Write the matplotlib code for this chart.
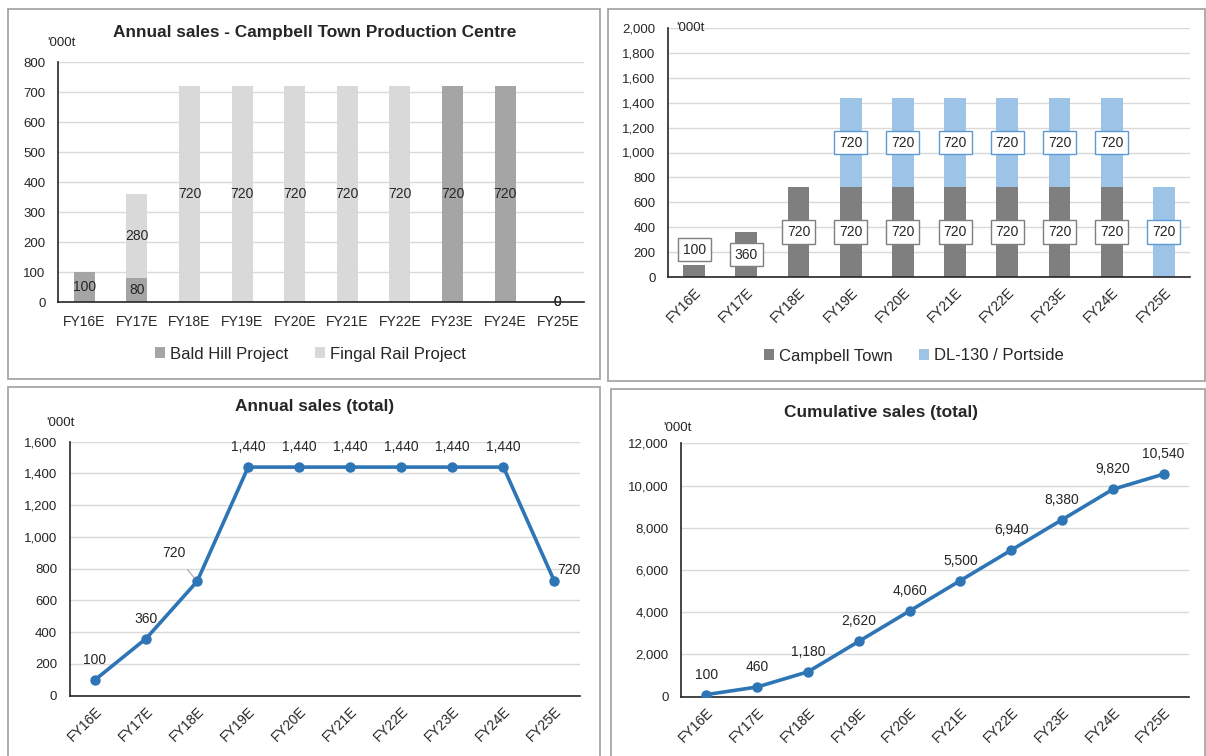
import matplotlib
matplotlib.use("Agg")
import matplotlib.pyplot as plt
from matplotlib.patches import Rectangle

# --- Dados ---
years = ["FY16E", "FY17E", "FY18E", "FY19E", "FY20E",
         "FY21E", "FY22E", "FY23E", "FY24E", "FY25E"]
bald_hill = [100, 80, 0, 0, 0, 0, 0, 720, 720, 0]
fingal_rail = [0, 280, 720, 720, 720, 720, 720, 0, 0, 0]
campbell_town = [100, 360, 720, 720, 720, 720, 720, 720, 720, 0]
dl130_portside = [0, 0, 0, 720, 720, 720, 720, 720, 720, 720]
annual_total = [100, 360, 720, 1440, 1440, 1440, 1440, 1440, 1440, 720]
cumulative_total = [100, 460, 1180, 2620, 4060, 5500, 6940, 8380, 9820, 10540]

# --- Estilo ---
W, H = 1206, 756
plt.rcParams['font.family'] = ['Liberation Sans', 'DejaVu Sans']
TXT = '#262626'
GRID = '#d9d9d9'
BORDER = '#a6a6a6'
C_BALD = '#a5a5a5'
C_FINGAL = '#d9d9d9'
C_CAMP = '#7f7f7f'
C_DL = '#9dc3e6'
C_LINE = '#2e75b6'

fig = plt.figure(figsize=(W / 100, H / 100), dpi=100)
x = list(range(len(years)))


def add_ax(l, t, r, b):
    return fig.add_axes([l / W, 1 - b / H, (r - l) / W, (b - t) / H])


def panel(l, t, r, b):
    fig.add_artist(Rectangle((l / W, 1 - b / H), (r - l) / W, (b - t) / H,
                             transform=fig.transFigure, fill=False,
                             ec=BORDER, lw=1.3))


def fig_text(px, py, s, **kw):
    fig.text(px / W, 1 - py / H, s, color=TXT, **kw)


def style_ax(ax, ymax, step, rotate):
    ax.set_xlim(-0.5, len(years) - 0.5)
    ax.set_ylim(0, ymax)
    ax.set_yticks(range(0, ymax + 1, step))
    ax.set_yticklabels([f"{v:,}" for v in range(0, ymax + 1, step)])
    ax.set_xticks(x)
    ax.grid(axis='y', color=GRID, lw=1)
    ax.set_axisbelow(True)
    for s in ['top', 'right']:
        ax.spines[s].set_visible(False)
    for s in ['left', 'bottom']:
        ax.spines[s].set_color('#262626')
        ax.spines[s].set_linewidth(1.2)
    ax.tick_params(length=0, colors=TXT)
    ax.tick_params(axis='y', labelsize=9.5, pad=9)
    if rotate:
        ax.set_xticklabels(years, rotation=45, ha='right', rotation_mode='anchor', fontsize=10)
        ax.tick_params(axis='x', pad=6)
    else:
        ax.set_xticklabels(years, fontsize=10)
        ax.tick_params(axis='x', pad=9)


# --- Bordas dos painéis ---
panel(8, 9, 600, 379)
panel(608, 9, 1205, 381)
panel(8, 387, 600, 760)
panel(611, 389, 1205, 760)

# --- Painel 1: Campbell Town Production Centre ---
ax1 = add_ax(58, 62, 584, 302)
style_ax(ax1, 800, 100, False)
ax1.bar(x, bald_hill, width=0.4, color=C_BALD, label='Bald Hill Project')
ax1.bar(x, fingal_rail, width=0.4, bottom=bald_hill, color=C_FINGAL, label='Fingal Rail Project')
for i in x:
    if bald_hill[i] > 0:
        ax1.text(i, bald_hill[i] / 2, str(bald_hill[i]), ha='center', va='center', fontsize=10, color=TXT)
    if fingal_rail[i] > 0:
        ax1.text(i, bald_hill[i] + fingal_rail[i] / 2, str(fingal_rail[i]),
                 ha='center', va='center', fontsize=10, color=TXT)
    if bald_hill[i] == 0 and fingal_rail[i] == 0:
        ax1.text(i, 0, "0", ha='center', va='center', fontsize=10, color=TXT)
        ax1.text(i, 0, "0", ha='center', va='center', fontsize=10, color=TXT)
fig_text(315, 33, "Annual sales - Campbell Town Production Centre",
         ha='center', va='center', fontsize=12.4, fontweight='bold')
fig_text(61, 43, "'000t", ha='center', va='center', fontsize=9.5)
h1, l1 = ax1.get_legend_handles_labels()
fig.legend(handles=h1, labels=l1,
           loc='center', bbox_to_anchor=(310 / W, 1 - 354 / H), ncol=2,
           frameon=False, fontsize=12, handlelength=0.6, handleheight=0.6,
           handletextpad=0.3, columnspacing=1.6, labelcolor=TXT)

# --- Painel 2: Campbell Town + DL-130 / Portside ---
ax2 = add_ax(668, 28, 1190, 277)
style_ax(ax2, 2000, 200, True)
ax2.bar(x, campbell_town, width=0.42, color=C_CAMP, label='Campbell Town')
ax2.bar(x, dl130_portside, width=0.42, bottom=campbell_town, color=C_DL, label='DL-130 / Portside')
for i in x:
    v = campbell_town[i]
    if v > 0:
        ypos = v / 2 if v / 2 > 120 else v + 120
        ax2.text(i, ypos, str(v), ha='center', va='center', fontsize=10, color=TXT,
                 bbox=dict(boxstyle='square,pad=0.35', fc='white', ec=C_CAMP, lw=1))
    d = dl130_portside[i]
    if d > 0:
        ax2.text(i, v + d / 2, str(d), ha='center', va='center', fontsize=10, color=TXT,
                 bbox=dict(boxstyle='square,pad=0.35', fc='white', ec='#5b9bd5', lw=1))
ax2.text(0.015, 1.0, "'000t", transform=ax2.transAxes, ha='left', va='center', fontsize=9.5, color=TXT)
h2, l2 = ax2.get_legend_handles_labels()
fig.legend(handles=h2, labels=l2, loc='center', bbox_to_anchor=(914 / W, 1 - 356 / H), ncol=2,
           frameon=False, fontsize=12, handlelength=0.6, handleheight=0.6,
           handletextpad=0.3, columnspacing=1.6, labelcolor=TXT)

# --- Painel 3: Annual sales (total) ---
ax3 = add_ax(69.5, 441.7, 580, 695.7)
style_ax(ax3, 1600, 200, True)
ax3.plot(x, annual_total, color=C_LINE, lw=2.6, marker='o', ms=6.5, zorder=3)
for i in x:
    v = annual_total[i]
    if i == 2:
        ax3.annotate(f"{v:,}", xy=(i, v), xytext=(-23, 28), textcoords='offset pixels',
                     ha='center', va='center', fontsize=10, color=TXT,
                     arrowprops=dict(arrowstyle='-', color='#a6a6a6', lw=0.8, shrinkA=6, shrinkB=3))
    elif i == len(x) - 1:
        ax3.annotate(f"{v:,}", xy=(i, v), xytext=(14, 11), textcoords='offset pixels',
                     ha='center', va='center', fontsize=10, color=TXT)
    else:
        ax3.annotate(f"{v:,}", xy=(i, v), xytext=(0, 20), textcoords='offset pixels',
                     ha='center', va='center', fontsize=10, color=TXT)
fig_text(315, 407, "Annual sales (total)", ha='center', va='center', fontsize=12.4, fontweight='bold')
fig_text(60, 423, "'000t", ha='center', va='center', fontsize=9.5)

# --- Painel 4: Cumulative sales (total) ---
ax4 = add_ax(681, 443.3, 1189, 696.7)
style_ax(ax4, 12000, 2000, True)
ax4.plot(x, cumulative_total, color=C_LINE, lw=2.6, marker='o', ms=6.5, zorder=3)
for i in x:
    v = cumulative_total[i]
    ax4.annotate(f"{v:,}", xy=(i, v), xytext=(0, 20), textcoords='offset pixels',
                 ha='center', va='center', fontsize=10, color=TXT)
fig_text(881, 412, "Cumulative sales (total)", ha='center', va='center', fontsize=12.4, fontweight='bold')
fig_text(677, 428, "'000t", ha='center', va='center', fontsize=9.5)

fig.savefig("out.png", dpi=100)
